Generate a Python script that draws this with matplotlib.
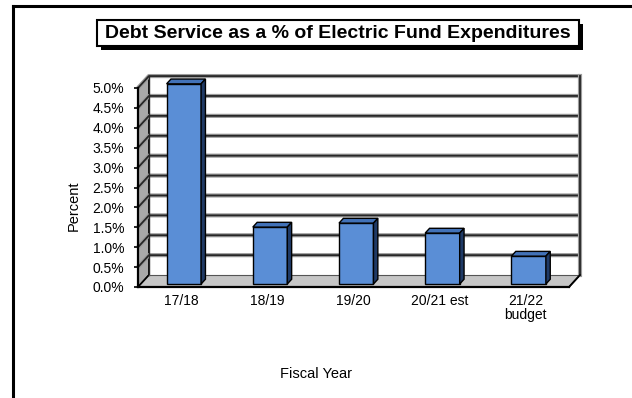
import matplotlib
matplotlib.use("Agg")
import matplotlib.pyplot as plt
from matplotlib.patches import Polygon, Rectangle
from matplotlib.lines import Line2D

# ── data ──────────────────────────────────────────────────────────────────────
categories = ["17/18", "18/19", "19/20", "20/21 est", "21/22\nbudget"]
debt_pct = [5.03, 1.43, 1.53, 1.28, 0.70]
y_ticks = [0.0, 0.5, 1.0, 1.5, 2.0, 2.5, 3.0, 3.5, 4.0, 4.5, 5.0]

title = "Debt Service as a % of Electric Fund Expenditures"

# ── style ─────────────────────────────────────────────────────────────────────
plt.rcParams["font.family"] = ["Liberation Sans", "DejaVu Sans"]
W, H = 632, 398
BAR_FRONT = "#5a8ed6"
BAR_TOP = "#4272b8"
BAR_SIDE = "#1f3a66"
WALL_SIDE = "#a9a9a9"
FLOOR = "#c6c6c6"

# depth of the fake 3-D box, in data units
DX, DY = 0.127, 0.30
F0, F1 = 0.25, 0.65   # bar front/back as fraction of depth
BAR_W = 0.40

fig = plt.figure(figsize=(W / 100, H / 100), dpi=100)
ax = fig.add_axes([138 / W, 1 - 287 / H, 431 / W, 199 / H])
x0, x1 = -0.5, len(categories) - 0.5
ymax = y_ticks[-1]
ax.set_xlim(x0, x1)
ax.set_ylim(0, ymax)
for s in ax.spines.values():
    s.set_visible(False)

# side wall, floor, back wall
ax.add_patch(Polygon([(x0, 0), (x0 + DX, DY), (x0 + DX, ymax + DY), (x0, ymax)],
                     closed=True, fc=WALL_SIDE, ec="black", lw=1.2, clip_on=False, zorder=1))
ax.add_patch(Polygon([(x0, 0), (x1, 0), (x1 + DX, DY), (x0 + DX, DY)],
                     closed=True, fc=FLOOR, ec="black", lw=1.2, clip_on=False, zorder=1))
ax.add_patch(Rectangle((x0 + DX, DY), x1 - x0, ymax, fc="white", ec="none",
                       clip_on=False, zorder=1))

# gridlines on back wall and side wall
for t in y_ticks[1:]:
    for lw, c in ((3.0, "#9c9c9c"), (1.3, "#262626")):
        ax.plot([x0, x0 + DX, x1 + DX], [t, t + DY, t + DY], color=c, lw=lw,
                solid_capstyle="butt", clip_on=False, zorder=2)
for lw, c in ((3.0, "#9c9c9c"), (1.3, "#262626")):
    ax.plot([x1 + DX, x1 + DX], [DY, ymax + DY], color=c, lw=lw,
            clip_on=False, zorder=2)
ax.plot([x0 + DX, x0 + DX], [DY, ymax + DY], color="#262626", lw=1.0,
        clip_on=False, zorder=2)
ax.plot([x0 + DX, x1 + DX], [DY, DY], color="#555555", lw=0.8,
        clip_on=False, zorder=2)

# bars
for i, v in enumerate(debt_pct):
    xl = i - BAR_W / 2 + F0 * DX
    xr = i + BAR_W / 2 + F0 * DX
    yb = F0 * DY
    yt = v + F0 * DY
    ddx, ddy = (F1 - F0) * DX, (F1 - F0) * DY
    ax.bar(i + F0 * DX, v, width=BAR_W, bottom=yb, color=BAR_FRONT,
           edgecolor="black", lw=1.0, zorder=4, clip_on=False)
    ax.add_patch(Polygon([(xl, yt), (xr, yt), (xr + ddx, yt + ddy), (xl + ddx, yt + ddy)],
                         closed=True, fc=BAR_TOP, ec="black", lw=1.0, zorder=4, clip_on=False))
    ax.add_patch(Polygon([(xr, yb), (xr + ddx, yb + ddy), (xr + ddx, yt + ddy), (xr, yt)],
                         closed=True, fc=BAR_SIDE, ec="black", lw=1.0, zorder=4, clip_on=False))

# front edges
ax.plot([x0, x0], [0, ymax], color="black", lw=1.6, clip_on=False, zorder=5)
ax.plot([x0, x1], [0, 0], color="black", lw=1.6, clip_on=False, zorder=5)
ax.plot([x1, x1 + DX], [0, DY], color="black", lw=1.2, clip_on=False, zorder=5)

ax.set_yticks(y_ticks)
ax.set_yticklabels([f"{t:.1f}%" for t in y_ticks])
ax.tick_params(axis="y", direction="out", length=3, width=1.2, pad=7, labelsize=10)
ax.set_xticks(range(len(categories)))
ax.set_xticklabels(categories, linespacing=1.0)
ax.tick_params(axis="x", length=0, pad=5, labelsize=10)

ax.set_ylabel("Percent", fontsize=10.5)
ax.yaxis.set_label_coords(-0.132, 0.41)
ax.set_xlabel("Fiscal Year", fontsize=10.5)
ax.xaxis.set_label_coords(0.414, -0.40)

# title box with drop shadow
bx0, bx1, by0, by1 = 97 / W, 579 / W, 1 - 46 / H, 1 - 20 / H
fig.patches.append(Rectangle((bx0 + 4 / W, by0 - 4 / H), bx1 - bx0, by1 - by0,
                             transform=fig.transFigure, fc="black", ec="none", zorder=1))
fig.patches.append(Rectangle((bx0, by0), bx1 - bx0, by1 - by0,
                             transform=fig.transFigure, fc="white", ec="black",
                             lw=1.5, zorder=2))
fig.text((bx0 + bx1) / 2, (by0 + by1) / 2, title, ha="center", va="center",
         fontsize=14, fontweight="bold", zorder=3)

# outer frame (top and left only)
fig.lines.append(Line2D([13 / W, 1], [1 - 6 / H, 1 - 6 / H], transform=fig.transFigure,
                        color="black", lw=2.2))
fig.lines.append(Line2D([13 / W, 13 / W], [0, 1 - 6 / H], transform=fig.transFigure,
                        color="black", lw=2.2))

fig.savefig("out.png", dpi=100)
